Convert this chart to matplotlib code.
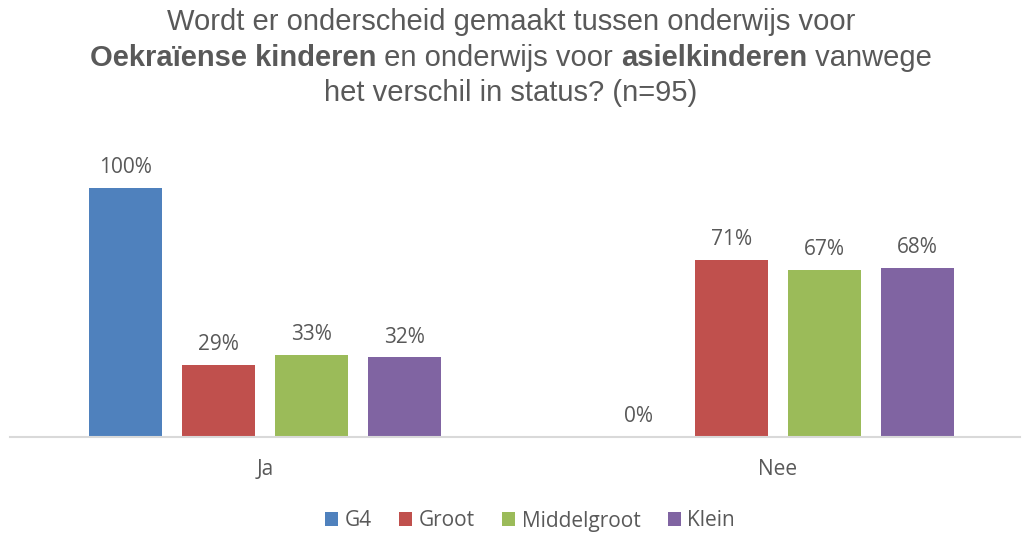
import matplotlib.pyplot as plt
import numpy as np

categories = ['Ja', 'Nee']
groups = ['G4', 'Groot', 'Middelgroot', 'Klein']
values = {
    'G4': [100, 0],
    'Groot': [29, 71],
    'Middelgroot': [33, 67],
    'Klein': [32, 68],
}
colors = ['#4F81BD', '#C0504D', '#9BBB59', '#8064A2']
text_gray = '#595959'

label_font = 'Open Sans'
title_font = 'Liberation Sans'

fig = plt.figure(figsize=(10.22, 5.34), dpi=100)
W, H = 1022, 534
# axes placed in pixel terms: baseline at y=437, top at y=140
ax = fig.add_axes([10 / W, (H - 437) / H, (1020 - 10) / W, (437 - 140) / H])

x = np.arange(len(categories))
unit = 513.0
bar_w = 73 / unit
step = 93 / unit
offsets = (np.arange(len(groups)) - 1.5) * step

for i, g in enumerate(groups):
    bars = ax.bar(x + offsets[i], values[g], width=bar_w, color=colors[i], label=g, zorder=2)
    for b, v in zip(bars, values[g]):
        ax.annotate(f'{v}%', (b.get_x() + b.get_width() / 2, b.get_height()),
                    xytext=(0, 7), textcoords='offset points', ha='center', va='bottom',
                    fontsize=15, color=text_gray, family=label_font)

ax.set_xlim(-(265 - 10) / unit, 1 + (1020 - 778) / unit)
ax.set_ylim(0, 297 / 249 * 100)

for s in ['top', 'right', 'left']:
    ax.spines[s].set_visible(False)
ax.spines['bottom'].set_color('#D9D9D9')
ax.spines['bottom'].set_linewidth(1.5)
ax.set_yticks([])
ax.set_xticks(x)
ax.set_xticklabels(categories, family=label_font, fontsize=15, color=text_gray)
ax.tick_params(axis='x', length=0, pad=16)

leg = fig.legend(loc='center', bbox_to_anchor=(530 / W, 1 - 521 / H), ncol=4, frameon=False,
                 handlelength=0.65, handleheight=0.65, handletextpad=0.3, columnspacing=1.3,
                 prop={'family': label_font, 'size': 15})
for t in leg.get_texts():
    t.set_color(text_gray)

# title, with bold parts on the middle line
tsize = 21
fig.text(0.5, 1 - 22 / H, 'Wordt er onderscheid gemaakt tussen onderwijs voor', ha='center', va='center',
         fontsize=tsize, color=text_gray, family=title_font)
fig.text(0.5, 1 - 93 / H, 'het verschil in status? (n=95)', ha='center', va='center',
         fontsize=tsize, color=text_gray, family=title_font)

pieces = [('Oekraïense kinderen', 'bold'), (' en onderwijs voor ', 'normal'),
          ('asielkinderen', 'bold'), (' vanwege', 'normal')]
fig.canvas.draw()
renderer = fig.canvas.get_renderer()
texts = []
for s, w in pieces:
    t = fig.text(0, 1 - 58 / H, s, ha='left', va='center', fontsize=tsize, color=text_gray,
                 family=title_font, fontweight=w)
    texts.append(t)
widths = [t.get_window_extent(renderer).width for t in texts]
total = sum(widths)
xpos = (W * 0.5 - total / 2)
for t, wd in zip(texts, widths):
    t.set_x(xpos / W)
    xpos += wd

fig.savefig('out.png', dpi=100)
